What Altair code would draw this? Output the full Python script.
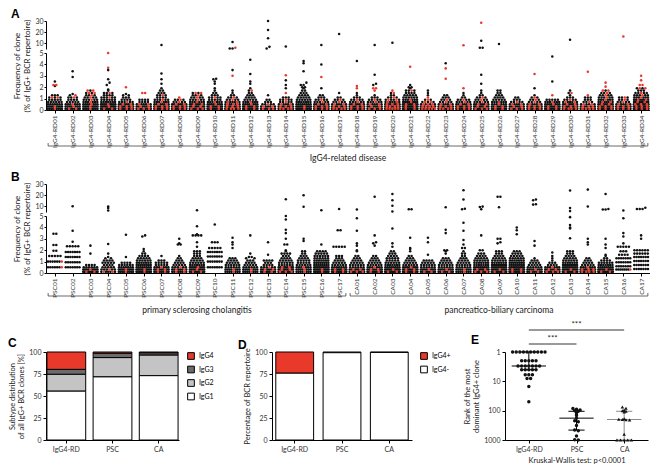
import altair as alt
import pandas as pd

FONT = "Lato"
LETTER_FONT = "Liberation Sans"
RED = "#e8392a"
DOT = "#111111"

# frequency levels used for the dense part of each swarm (% of IgG+ repertoire)
LEVELS = [0.1, 0.3, 0.5, 0.7, 0.9, 1.1, 1.3, 1.5, 1.7, 1.9]

# (patient, black counts per level, red counts per level, extra black values, extra red values)
RD_PATIENTS = [
    ("IgG4-RD01", [8, 8, 7, 6, 5, 3, 3], [1, 1, 0, 0, 0, 2], [2.1, 2.5], [2.2, 2.2]),
    ("IgG4-RD02", [7, 7, 6, 5, 4, 3, 1], [2, 1, 1, 0, 0, 1, 1], [1.4, 2.9, 3.4], []),
    ("IgG4-RD03", [8, 8, 7, 6, 5, 4, 3, 2, 1], [1, 1, 1, 1, 1, 1, 1, 2, 2], [], []),
    ("IgG4-RD04", [8, 9, 8, 7, 6, 5, 4, 3, 1], [2, 1, 1, 0, 0, 1, 0, 1], [1.8, 2.2, 2.4, 2.7, 3.5], [3.7, 5.0]),
    ("IgG4-RD05", [7, 7, 6, 5, 4, 3, 2], [3, 3, 2, 1], [1.4], [2.0]),
    ("IgG4-RD06", [6, 6, 5, 4, 4], [3, 2, 2, 0, 0, 0, 0, 2], [], []),
    ("IgG4-RD07", [7, 7, 6, 6, 5, 4, 3, 3, 2, 1], [3, 3, 2, 1, 1, 0, 1], [2.3, 2.7, 3.2, 8.6], []),
    ("IgG4-RD08", [7, 7, 6, 4, 3], [3, 3, 2, 1, 1, 1], [], []),
    ("IgG4-RD09", [7, 7, 6, 6, 5, 4, 3, 2], [3, 2, 2, 1, 1, 1, 1, 2], [], []),
    ("IgG4-RD10", [8, 8, 7, 6, 5, 4, 3, 2, 1, 1], [2, 2, 1, 1, 0, 1], [2.3, 2.5, 2.7, 2.75], []),
    ("IgG4-RD11", [7, 6, 5, 5, 4, 3, 2, 1, 1], [4, 3, 3, 2, 1, 1], [3.5, 5.5, 5.5, 11.3], [3.0, 6.2]),
    ("IgG4-RD12", [8, 8, 7, 6, 5, 4, 3, 2, 1, 1], [2, 2, 1, 1, 0, 0, 0, 0, 1], [2.3, 2.5, 3.15, 4.4], []),
    ("IgG4-RD13", [5, 5, 4, 3, 2, 0, 1], [3, 2, 1], [5.5, 6.9, 14.6, 22.0, 30.0], []),
    ("IgG4-RD14", [6, 6, 5, 4, 4, 3], [4, 3, 2, 1, 1, 0, 0, 1], [1.9, 2.2, 2.6, 7.2], [3.05]),
    ("IgG4-RD15", [9, 9, 8, 7, 6, 5, 4, 3, 2, 1], [1, 1], [2.0, 2.0, 2.2, 2.2, 2.4, 3.4, 4.1, 4.3], []),
    ("IgG4-RD16", [7, 7, 6, 5, 4, 3, 2], [3, 3, 2, 1, 1], [1.9, 4.0, 8.6], [2.9]),
    ("IgG4-RD17", [6, 6, 5, 4, 3, 2, 0, 1], [4, 3, 2, 1, 1], [18.4], []),
    ("IgG4-RD18", [7, 7, 6, 5, 4, 3, 1, 1], [3, 3, 2, 1, 1, 0, 0, 0, 0, 1], [4.3], [2.1]),
    ("IgG4-RD19", [6, 6, 5, 5, 4, 3, 1], [3, 2, 2, 1, 1, 0, 0, 0, 1, 2], [2.2, 2.3, 3.1, 8.6], []),
    ("IgG4-RD20", [6, 6, 6, 5, 4, 3, 2, 1], [5, 4, 3, 2, 2, 1, 0, 1, 1], [10.5], []),
    ("IgG4-RD21", [9, 9, 8, 7, 6, 6, 5, 4, 3, 1], [2, 2, 2, 1, 1, 0, 0, 0, 1], [2.0, 2.0, 2.2], [3.8]),
    ("IgG4-RD22", [5, 5, 4, 3, 2, 0, 1, 1, 1], [5, 4, 3, 2, 1, 1], [], []),
    ("IgG4-RD23", [6, 6, 5, 4, 3, 3, 2], [4, 3, 2, 1, 1], [4.1], [2.75, 3.65]),
    ("IgG4-RD24", [7, 7, 6, 5, 4, 2, 1, 1], [3, 3, 2, 1, 1, 0, 0, 0, 0, 1], [], [8.3]),
    ("IgG4-RD25", [7, 7, 6, 5, 4, 3, 2, 1, 1], [3, 2, 2, 1, 1, 1], [2.3, 3.1, 6.1, 6.1, 12.4], [28.5]),
    ("IgG4-RD26", [7, 7, 6, 6, 5, 4, 3, 2, 2], [2, 2, 1, 1], [9.4], []),
    ("IgG4-RD27", [6, 6, 5, 4, 3, 2], [3, 2, 2, 1], [], []),
    ("IgG4-RD28", [6, 6, 5, 4, 3, 2, 1, 0, 0, 1], [3, 3, 2, 1, 1, 1], [], [3.15]),
    ("IgG4-RD29", [8, 8, 7, 6, 5], [2, 2, 1, 1, 0, 0, 1], [2.5, 4.7], []),
    ("IgG4-RD30", [7, 7, 6, 5, 4, 3, 1, 1, 1], [4, 3, 2, 2, 1, 0, 0, 1], [13.2], []),
    ("IgG4-RD31", [5, 5, 4, 3, 3, 3], [4, 3, 2, 1, 0, 0, 1], [], [3.35]),
    ("IgG4-RD32", [8, 8, 7, 6, 6, 5, 4, 3, 1], [3, 3, 2, 2, 1, 1, 1, 1, 2], [], [2.05, 2.4]),
    ("IgG4-RD33", [6, 6, 5, 4, 3, 3], [3, 3, 2, 1, 1, 1], [], [16.2]),
    ("IgG4-RD34", [9, 9, 8, 7, 6, 6, 5, 4, 3, 2], [3, 3, 3, 2, 2, 1, 1, 1, 0, 2], [], [2.2, 2.2, 2.6, 3.0]),
]

# extra values may be (value, number of clones at that value)
PSC_PATIENTS = [
    ("PSC01", [], [], [(3.45, 2), (2.45, 2), (1.95, 2), (1.5, 5), (1.0, 6), (0.5, 6)], [1.0, 0.5]),
    ("PSC02", [], [], [10.1, 3.7, 2.75, (2.35, 5), (1.85, 7), (1.4, 7), (0.95, 7), (0.5, 7)], []),
    ("PSC03", [8, 8, 6, 4], [2, 1], [1.7, 2.4], []),
    ("PSC04", [5, 5, 5, 4, 5, 4, 2], [2, 1], [1.4, 1.7, 2.55, 6.4, 8.5, 10.0], []),
    ("PSC05", [8, 8, 7, 6, 4], [1, 1], [1.4, 3.35], []),
    ("PSC06", [9, 9, 8, 8, 7, 6, 5, 4, 2], [1, 1], [1.9, 2.1, 3.2, 3.3], []),
    ("PSC07", [7, 7, 6, 5, 5, 3], [2, 2, 1], [1.5], []),
    ("PSC08", [6, 6, 5, 5, 4, 3, 2, 1], [2, 2, 1], [2.5, 2.5, 2.6, 3.0], []),
    ("PSC09", [8, 8, 7, 7, 6, 5, 4, 3, 3, 3], [2, 1, 1], [2.3, 2.7, (3.3, 4), 3.4, 4.1, 6.6], []),
    ("PSC10", [], [], [4.25, (2.7, 3), (2.2, 5), (1.85, 7), (1.45, 7), (1.0, 7), (0.5, 7)], []),
    ("PSC11", [7, 7, 6, 6, 5, 4, 3], [1, 1], [2.2, 2.5, 2.7, 3.1], []),
    ("PSC12", [7, 7, 6, 5, 4, 3, 2], [1, 1], [1.4, 1.4, 1.7, 3.3], []),
    ("PSC13", [7, 6, 5, 4, 3, 2], [2, 2, 1], [1.1, 1.1, 1.6, 2.7], []),
    ("PSC14", [8, 8, 7, 6, 6, 5, 4, 3, 2, 1], [3, 2, 2], [1.7, 1.7, 2.0, 2.5, 2.5, 3.0, 3.5, 3.8, 4.7, 5.0, 16.4], []),
    ("PSC15", [7, 7, 6, 6, 5, 5, 4, 3, 2, 2], [1, 1, 1], [2.8, 3.0, 9.6, 19.9], []),
    ("PSC16", [9, 9, 9, 8, 8, 7, 6, 6, 5, 4], [1, 1], [2.5, 6.6], []),
    ("PSC17", [8, 8, 7, 6, 5, 4, 3, 3], [2, 2], [(2.3, 5), (3.75, 2), 7.7], []),
]

CA_PATIENTS = [
    ("CA01", [8, 7, 6, 6, 5, 4, 3, 2], [3, 2], [1.9, 2.0, 2.4, 2.6, 3.7, 4.8, 7.2], []),
    ("CA02", [8, 7, 6, 6, 5, 4, 3, 2], [2, 2, 1], [2.4, 2.6, 2.7, 3.3, 18.6], []),
    ("CA03", [9, 9, 8, 7, 6, 5, 5, 4, 3, 2], [2, 1], [2.3, 2.6, 3.9, 5.5, 10.5, 15.5, 21.0], []),
    ("CA04", [8, 8, 7, 6, 5, 4, 3, 2], [2, 2, 1], [1.9, 2.1, 2.2, 3.1, 7.4, 7.4], []),
    ("CA05", [7, 7, 6, 6, 5, 4], [2, 1], [1.6, 2.7, 3.1], []),
    ("CA06", [7, 7, 6, 6, 5, 4, 3, 0, 1, 1], [2, 1], [2.0, 2.0, 3.5, 3.8, 9.3], []),
    ("CA07", [7, 7, 6, 6, 5, 4, 3, 2, 2, 1], [1, 1], [2.2, 2.2, 2.5, 2.9, 3.7, 4.4, 7.5, 7.9, 16.1, 24.5], []),
    ("CA08", [8, 8, 8, 7, 7, 6, 5, 4, 3], [3, 2], [2.0, 2.0, 3.3, 7.4, 9.4, 9.8], []),
    ("CA09", [9, 9, 8, 8, 7, 6, 5, 4, 3, 3], [2, 1], [2.6, 2.7, 3.0, 3.0, 9.3, 18.6, 18.6], []),
    ("CA10", [9, 9, 9, 8, 8, 7, 6, 5, 4, 3], [2, 2], [3.4, 3.75, 4.0], []),
    ("CA11", [7, 7, 6, 5, 4, 3, 1], [2, 1], [2.4, 2.8, 11.6, 12.0, 15.5, 16.1], []),
    ("CA12", [7, 7, 6, 4, 3, 1, 1], [3, 2, 1], [1.5, 1.8], []),
    ("CA13", [9, 9, 8, 8, 7, 6, 5, 4, 3, 3], [2, 1], [3.05, 3.9, 4.0, 4.2, 4.9, 5.8, 8.5, 24.2], []),
    ("CA14", [7, 7, 6, 5, 4, 3, 2], [4, 3, 1], [2.5, 2.7, 3.0, 9.9, 25.0], []),
    ("CA15", [9, 9, 8, 7, 6, 4, 2, 1], [2, 1], [1.6, 2.2, 2.5, 3.0, 7.2, 7.2, 7.6, 21.0], []),
    ("CA16", [], [], [(0.3, 7), (0.6, 7), (0.95, 7), (1.3, 7), (1.6, 4), (1.9, 3), (2.3, 5), 2.6, 3.2, 3.5, 4.8, 6.4], [0.3]),
    ("CA17", [], [], [(0.35, 7), (0.7, 7), (1.05, 7), (1.4, 7), (1.7, 6), (2.0, 6), 3.0, 3.3, 7.7, 7.7, 7.7, 8.8], []),
]

A_GROUPS = [("IgG4-related disease", 0, 33)]
B_GROUPS = [("primary sclerosing cholangitis", 0, 16), ("pancreatico-biliary carcinoma", 17, 33)]

# panel C / D
GROUPS = ["IgG4-RD", "PSC", "CA"]
C_SUBTYPES = ["IgG4", "IgG3", "IgG2", "IgG1"]
C_IGG1 = [55.5, 71.7, 73.1]
C_IGG2 = [19.1, 21.9, 23.3]
C_IGG3 = [5.6, 4.9, 2.5]
C_IGG4 = [19.8, 1.5, 1.1]
D_CLASSES = ["IgG4+", "IgG4-"]
D_POS = [24.1, 0.8, 0.5]
D_NEG = [75.9, 99.2, 99.5]

# panel E: rank of the most dominant IgG4+ clone per patient
E_RD = [1, 1, 1, 1, 1, 1, 1, 1, 1, 1, 2, 2, 2, 2, 2, 3, 3, 3, 3, 3, 3, 3,
        4, 4, 4, 4, 4, 6, 6, 6, 8, 8, 15, 50]
E_PSC = [85, 90, 95, 100, 105, 110, 130, 145, 180, 220, 240, 320, 460, 480, 730, 980, 1000]
E_CA = [75, 82, 95, 100, 105, 110, 190, 195, 200, 205, 210, 640, 1000, 1000, 1000, 1000, 1000]
SIG_PAIRS = [("IgG4-RD", "CA", "***"), ("IgG4-RD", "PSC", "***")]
KW_TEXT = "Kruskal-Wallis test: p<0.0001"

# ---------------------------------------------------------------- layout
W_SW = 604
H_TOP = 28
H_BOT = 57
SEG_GAP = 4
DOT_SIZE = 6.5


def expand(extra):
    out = []
    for e in extra:
        if isinstance(e, tuple):
            out += [e[0]] * e[1]
        else:
            out.append(e)
    return out


def build_points(patients):
    rows = []
    for xi, (name, bl, rl, bx, rx) in enumerate(patients):
        for col, counts, extra in (("black", bl, bx), ("red", rl, rx)):
            bump = 0.001 if col == "red" else 0.0
            for lv, c in zip(LEVELS, counts):
                for i in range(c):
                    rows.append(dict(xi=xi, v=lv, col=col, ord=(i + 0.5) / c + bump))
            for v in expand(extra):
                rows.append(dict(xi=xi, v=v, col=col, ord=0.5 + bump))
    return pd.DataFrame(rows)


def letter_layer(letter, x, y, visible=True):
    return alt.Chart(pd.DataFrame({"t": [letter]})).mark_text(
        font=LETTER_FONT, fontSize=12, fontWeight="bold", align="left",
        baseline="alphabetic", color="black", opacity=1 if visible else 0,
    ).encode(x=alt.value(x), y=alt.value(y), text="t:N")


def swarm_block(patients, groups, letter, br_off, tx_off):
    df = build_points(patients)
    n_pat = len(patients)
    step = W_SW / n_pat
    names = [p[0] for p in patients]
    label_expr = "[" + ",".join("'%s'" % s for s in names) + "][datum.value]"
    xscale = alt.Scale(domain=[-0.5, n_pat - 0.5], nice=False, zero=False)
    x_axis = alt.Axis(values=list(range(n_pat)), labelExpr=label_expr, labelAngle=-90,
                      labelOverlap=False, labelFlush=False, labelFontSize=6.5,
                      labelPadding=2, title=None)
    base = (
        alt.Chart(df)
        .transform_calculate(rowkey="datum.v <= 5 ? floor(datum.v / 0.2) : 100 + floor((datum.v - 5) / 2)")
        .transform_window(k="row_number()", groupby=["xi", "rowkey"], sort=[alt.SortField("ord")])
        .transform_joinaggregate(n="count()", groupby=["xi", "rowkey"])
        .transform_calculate(
            xp="datum.xi + (datum.k - 1 - (datum.n - 1) / 2) * min(2.8, 16 / datum.n) / %f" % step,
            z="datum.col == 'red' ? 1 : 0",
        )
    )
    dot_color = alt.when(alt.datum.col == "red").then(alt.value(RED)).otherwise(alt.value(DOT))

    top_pts = base.transform_filter("datum.v > 5").mark_circle(size=DOT_SIZE, opacity=1).encode(
        x=alt.X("xp:Q", scale=xscale, axis=None),
        y=alt.Y("v:Q", scale=alt.Scale(domain=[5, 30], nice=False, zero=False),
                axis=alt.Axis(values=[10, 20, 30], title=None, tickSize=2, labelPadding=1)),
        color=dot_color,
        order=alt.Order("z:Q"),
    )
    top = alt.layer(top_pts, letter_layer(letter, -35, -3)).properties(width=W_SW, height=H_TOP)

    bot_pts = base.transform_filter("datum.v <= 5").mark_circle(size=DOT_SIZE, opacity=1).encode(
        x=alt.X("xp:Q", scale=xscale, axis=x_axis),
        y=alt.Y("v:Q", scale=alt.Scale(domain=[0, 5], nice=False),
                axis=alt.Axis(values=[0, 1, 2, 3, 4, 5], tickSize=2, labelPadding=1,
                              title=["Frequency of clone", "(% of IgG+ BCR repertoire)"],
                              titleX=-25, titleBaseline="bottom",
                              titleY=(H_BOT - H_TOP - SEG_GAP) / 2)),
        color=dot_color,
        order=alt.Order("z:Q"),
    )
    gdf = pd.DataFrame(groups, columns=["name", "s", "e"])
    g = alt.Chart(gdf).transform_calculate(
        x1="datum.s - 0.38", x2="datum.e + 0.38", xm="(datum.s + datum.e) / 2")
    yb = H_BOT + br_off
    line = g.mark_rule(color="#444444", strokeWidth=0.8).encode(
        x=alt.X("x1:Q", scale=xscale, axis=x_axis), x2="x2:Q", y=alt.value(yb))
    capl = g.mark_rule(color="#444444", strokeWidth=0.8).encode(
        x=alt.X("x1:Q", scale=xscale, axis=x_axis), y=alt.value(yb), y2=alt.value(yb - 3))
    capr = g.mark_rule(color="#444444", strokeWidth=0.8).encode(
        x=alt.X("x2:Q", scale=xscale, axis=x_axis), y=alt.value(yb), y2=alt.value(yb - 3))
    gtext = g.mark_text(font=FONT, fontSize=8.5, color="#222222", baseline="middle").encode(
        x=alt.X("xm:Q", scale=xscale, axis=x_axis), y=alt.value(H_BOT + tx_off), text="name:N")
    bot = alt.layer(bot_pts, line, capl, capr, gtext,
                    letter_layer(letter, -35, H_BOT / 2, visible=False)).properties(width=W_SW, height=H_BOT)
    return alt.vconcat(top, bot, spacing=SEG_GAP, bounds="flush")


A = swarm_block(RD_PATIENTS, A_GROUPS, "A", 36, 48)
B = swarm_block(PSC_PATIENTS + CA_PATIENTS, B_GROUPS, "B", 23, 37)

# ---------------------------------------------------------------- C
H_CDE = 88
c_vals = {"IgG1": C_IGG1, "IgG2": C_IGG2, "IgG3": C_IGG3, "IgG4": C_IGG4}
cdf = pd.DataFrame([
    dict(g=g, s=s, p=c_vals[s][i], o=len(C_SUBTYPES) - 1 - C_SUBTYPES.index(s))
    for i, g in enumerate(GROUPS) for s in C_SUBTYPES
])
leg = dict(title=None, orient="right", symbolType="square", symbolSize=45, symbolStrokeColor="black",
           symbolStrokeWidth=1, labelFontSize=7, labelFont=FONT, rowPadding=1.5, offset=8, padding=0)
c_bars = alt.Chart(cdf).mark_bar(stroke="black", strokeWidth=1).encode(
    x=alt.X("g:N", sort=GROUPS, scale=alt.Scale(paddingInner=0.16, paddingOuter=0.02),
            axis=alt.Axis(title=None, labelAngle=0)),
    y=alt.Y("p:Q", stack="zero", scale=alt.Scale(domain=[0, 100], nice=False),
            axis=alt.Axis(values=[0, 25, 50, 75, 100], titleFontSize=7.5,
                          title=["Subtype distribution", "of all IgG+ BCR clones [%]"])),
    color=alt.Color("s:N", scale=alt.Scale(domain=C_SUBTYPES, range=[RED, "#6b6b6b", "#c4c4c4", "#ffffff"]),
                    legend=alt.Legend(**leg)),
    order=alt.Order("o:Q"),
)
C = alt.layer(c_bars, letter_layer("C", -38, -5)).properties(width=133, height=H_CDE)

# ---------------------------------------------------------------- D
d_vals = {"IgG4+": D_POS, "IgG4-": D_NEG}
ddf = pd.DataFrame([
    dict(g=g, k=k, p=d_vals[k][i], o=len(D_CLASSES) - 1 - D_CLASSES.index(k))
    for i, g in enumerate(GROUPS) for k in D_CLASSES
])
d_bars = alt.Chart(ddf).mark_bar(stroke="black", strokeWidth=1).encode(
    x=alt.X("g:N", sort=GROUPS, scale=alt.Scale(paddingInner=0.2, paddingOuter=0.08),
            axis=alt.Axis(title=None, labelAngle=0)),
    y=alt.Y("p:Q", stack="zero", scale=alt.Scale(domain=[0, 100], nice=False),
            axis=alt.Axis(values=[0, 25, 50, 75, 100], title="Percentage of BCR repertoire",
                          titleFontSize=7.5)),
    fill=alt.Fill("k:N", scale=alt.Scale(domain=D_CLASSES, range=[RED, "#ffffff"]),
                  legend=alt.Legend(**leg)),
    order=alt.Order("o:Q"),
)
D = alt.layer(d_bars, letter_layer("D", -34, -3)).properties(width=140, height=H_CDE)

# ---------------------------------------------------------------- E
W_E = 143
edf = pd.DataFrame([dict(xi=i, g=g, rank=r)
                    for i, (g, lst) in enumerate(zip(GROUPS, [E_RD, E_PSC, E_CA])) for r in lst])
step_e = W_E / 3
xs_e = alt.Scale(domain=[-0.5, 2.5], nice=False, zero=False)
ys_e = alt.Scale(type="log", domain=[1, 1000], reverse=True, nice=False)
e_label_expr = "[" + ",".join("'%s'" % s for s in GROUPS) + "][datum.value]"
ex_axis = alt.Axis(values=[0, 1, 2], labelExpr=e_label_expr, labelFlush=False, labelOverlap=False,
                   title=KW_TEXT, titleFontSize=7.5, titlePadding=4)
ey_axis = alt.Axis(values=[1, 10, 100, 1000], format="d", titleFontSize=7.5,
                   title=["Rank of the most", "dominant IgG4+ clone"])

e_base = (
    alt.Chart(edf)
    .transform_calculate(rowkey="floor(log(datum.rank) / LN10 / 0.06)")
    .transform_window(k="row_number()", groupby=["xi", "rowkey"])
    .transform_joinaggregate(n="count()", groupby=["xi", "rowkey"])
    .transform_calculate(xp="datum.xi + (datum.k - 1 - (datum.n - 1) / 2) * min(3.6, 40 / datum.n) / %f" % step_e)
)
e_pts = e_base.mark_point(filled=True, size=12, opacity=1, color=DOT).encode(
    x=alt.X("xp:Q", scale=xs_e, axis=ex_axis),
    y=alt.Y("rank:Q", scale=ys_e, axis=ey_axis),
    shape=alt.Shape("g:N", scale=alt.Scale(domain=GROUPS, range=["circle", "circle", "triangle-up"]),
                    legend=None),
)
stats = alt.Chart(edf).transform_aggregate(
    med="median(rank)", q1="q1(rank)", q3="q3(rank)", groupby=["xi"]
).transform_calculate(a="datum.xi - 0.36", b="datum.xi + 0.36", c="datum.xi - 0.17", d="datum.xi + 0.17")
stat_color = alt.when(alt.datum.xi == 2).then(alt.value("#8a8a8a")).otherwise(alt.value("black"))
med_rule = stats.mark_rule(strokeWidth=1).encode(
    x=alt.X("a:Q", scale=xs_e, axis=ex_axis), x2="b:Q",
    y=alt.Y("med:Q", scale=ys_e, axis=ey_axis), color=stat_color)
q1_rule = stats.mark_rule(strokeWidth=1).encode(
    x=alt.X("c:Q", scale=xs_e, axis=ex_axis), x2="d:Q",
    y=alt.Y("q1:Q", scale=ys_e, axis=ey_axis), color=stat_color)
q3_rule = stats.mark_rule(strokeWidth=1).encode(
    x=alt.X("c:Q", scale=xs_e, axis=ex_axis), x2="d:Q",
    y=alt.Y("q3:Q", scale=ys_e, axis=ey_axis), color=stat_color)
v_rule = stats.mark_rule(strokeWidth=1).encode(
    x=alt.X("xi:Q", scale=xs_e, axis=ex_axis),
    y=alt.Y("q1:Q", scale=ys_e, axis=ey_axis), y2="q3:Q", color=stat_color)

sig_df = pd.DataFrame([dict(a=GROUPS.index(p[0]), b=GROUPS.index(p[1]), t=p[2]) for p in SIG_PAIRS])
sig = alt.Chart(sig_df).transform_calculate(m="(datum.a + datum.b) / 2")
sig_long = sig.transform_filter("datum.b == 2")
sig_short = sig.transform_filter("datum.b == 1")
sig_layers = []
for part, yy in ((sig_long, -22), (sig_short, -8)):
    sig_layers.append(part.mark_rule(color="black", strokeWidth=0.8).encode(
        x=alt.X("a:Q", scale=xs_e, axis=ex_axis), x2="b:Q", y=alt.value(yy)))
    sig_layers.append(part.mark_text(font=FONT, fontSize=8, baseline="bottom", color="#222222").encode(
        x=alt.X("m:Q", scale=xs_e, axis=ex_axis), y=alt.value(yy - 1), text="t:N"))

E = alt.layer(v_rule, q1_rule, q3_rule, med_rule, e_pts, *sig_layers,
              letter_layer("E", -34, -8)).properties(width=W_E, height=H_CDE)

CDE = alt.hconcat(C, D, E, spacing=93, bounds="flush").resolve_scale(
    color="independent", fill="independent").resolve_legend(color="independent", fill="independent")

chart = alt.vconcat(alt.vconcat(A, B, spacing=8), CDE, spacing=6).properties(padding=0)
chart = chart.configure_view(stroke=None).configure_axis(
    grid=False, domainColor="black", domainWidth=1, tickColor="black", tickSize=3, tickWidth=1,
    labelFont=FONT, titleFont=FONT, labelFontSize=7, titleFontSize=8, labelColor="#333333",
    titleColor="#222222", titleFontWeight="normal", labelPadding=2, titlePadding=3,
).configure_text(font=FONT)

chart.save("out.html", embed_options={"renderer": "svg", "actions": False})
